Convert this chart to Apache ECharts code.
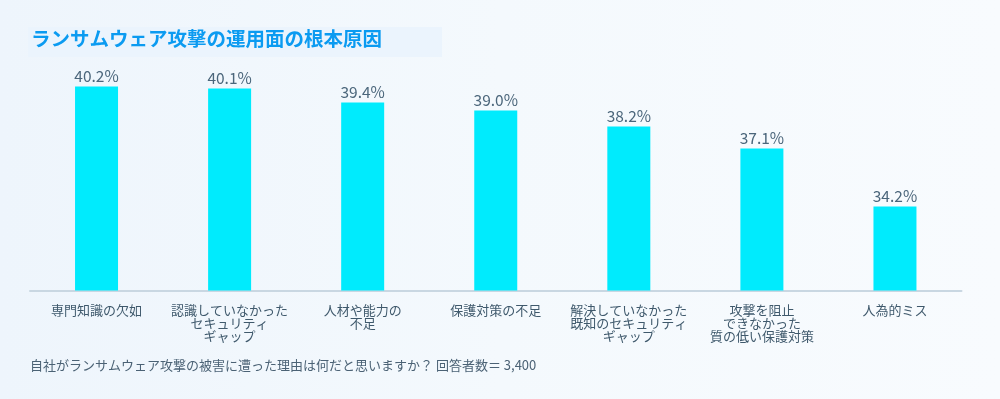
<!DOCTYPE html>
<html><head><meta charset="utf-8">
<script src="https://cdn.jsdelivr.net/npm/echarts@6/dist/echarts.min.js"></script>
<style>
html,body{margin:0;padding:0;width:1000px;height:399px;overflow:hidden;background:linear-gradient(90deg,#eef5fc 0%,#f4f9fd 50%,#f8fbfe 100%);}
#c{width:1000px;height:399px;}
</style></head>
<body><div id="c"></div>
<script>
const titleText = 'ランサムウェア攻撃の運用面の根本原因';
const footnote = '自社がランサムウェア攻撃の被害に遭った理由は何だと思いますか？ 回答者数＝ 3,400';
const categories = ['専門知識の欠如','認識していなかった\nセキュリティ\nギャップ','人材や能力の\n不足','保護対策の不足','解決していなかった\n既知のセキュリティ\nギャップ','攻撃を阻止\nできなかった\n質の低い保護対策','人為的ミス'];
const values = [40.2, 40.1, 39.4, 39.0, 38.2, 37.1, 34.2];

const font = '"Noto Sans CJK JP","Noto Sans",sans-serif';
const chart = echarts.init(document.getElementById('c'), null, {renderer:'canvas'});
chart.setOption({
  backgroundColor: 'transparent',
  animation: false,
  graphic: [
    {type:'rect', left:28, top:27, shape:{width:414, height:30}, style:{fill:'#ebf4fd'}, z:0},
    {type:'text', left:31, top:29, style:{text:titleText, font:'bold 19.5px '+font, fill:'#0b9bf1'}, z:1},
    {type:'text', left:30, top:359, style:{text:footnote, font:'13px '+font, fill:'#4b6275'}, z:1}
  ],
  grid: {left:30, right:38.5, top:70.5, bottom:108.5, containLabel:false},
  xAxis: {
    type:'category', data:categories,
    axisLine:{show:true, lineStyle:{color:'#c9d7e2', width:2}},
    axisTick:{show:false},
    axisLabel:{interval:0, fontSize:13, lineHeight:13, color:'#3f596c', fontFamily:font, margin:13}
  },
  yAxis: {type:'value', min:30, max:41, show:false, splitLine:{show:false}},
  series: [{
    type:'bar', data:values, barWidth:43,
    itemStyle:{color:'#00ebfd'},
    label:{show:true, position:'top', distance:3, formatter:p=>p.value.toFixed(1)+'%', fontSize:15.5, color:'#4b667b', fontFamily:font}
  }]
});
</script></body></html>
